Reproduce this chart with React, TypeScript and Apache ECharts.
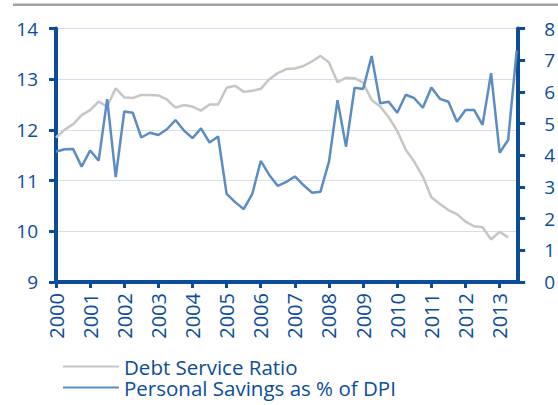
import React, { useEffect, useRef } from "react";
import * as echarts from "echarts";

const yearTicks = [2000, 2001, 2002, 2003, 2004, 2005, 2006, 2007, 2008, 2009, 2010, 2011, 2012, 2013];

// Quarterly, starting 2000 Q1
const debtServiceRatio = [
  11.85, 12.0, 12.11, 12.29, 12.39, 12.56, 12.46, 12.82, 12.64, 12.63,
  12.69, 12.69, 12.68, 12.6, 12.44, 12.49, 12.46, 12.38, 12.5, 12.5,
  12.83, 12.87, 12.75, 12.77, 12.81, 13.0, 13.12, 13.2, 13.21, 13.26,
  13.35, 13.46, 13.33, 12.94, 13.03, 13.02, 12.93, 12.59, 12.46, 12.25,
  11.98, 11.61, 11.37, 11.08, 10.67, 10.54, 10.42, 10.34, 10.19, 10.1,
  10.08, 9.84, 9.99, 9.88,
];

const personalSavings = [
  4.11, 4.19, 4.2, 3.64, 4.15, 3.83, 5.77, 3.31, 5.38, 5.34,
  4.56, 4.71, 4.64, 4.82, 5.11, 4.78, 4.54, 4.85, 4.4, 4.59,
  2.78, 2.52, 2.3, 2.77, 3.82, 3.38, 3.03, 3.16, 3.33, 3.06,
  2.82, 2.85, 3.8, 5.74, 4.27, 6.13, 6.09, 7.13, 5.64, 5.69,
  5.34, 5.91, 5.8, 5.5, 6.14, 5.78, 5.69, 5.06, 5.43, 5.43,
  4.96, 6.59, 4.08, 4.48, 7.3,
];

const seriesNames = ["Debt Service Ratio", "Personal Savings as % of DPI"];

const AXIS_BLUE = "#0b4d99";
const FONT = "Open Sans";

export default function App() {
  const ref = useRef<HTMLDivElement>(null);

  useEffect(() => {
    if (!ref.current) return;
    const chart = echarts.init(ref.current, null, { renderer: "svg" });
    const toQuarter = (i: number) => 2000 + i / 4;
    chart.setOption({
      animation: false,
      backgroundColor: "#ffffff",
      textStyle: { fontFamily: FONT },
      graphic: [
        {
          type: "rect",
          shape: { x: 13, y: 3.5, width: 545, height: 2.5 },
          style: { fill: "#a3a3a3" },
          silent: true,
        },
      ],
      grid: { left: 56, right: 28, top: 28.5, bottom: 123, containLabel: false },
      legend: {
        orient: "vertical",
        left: 63,
        top: 356,
        padding: 0,
        itemGap: 0,
        itemWidth: 56,
        itemHeight: 14,
        icon: "path://M0,6 L56,6 L56,8 L0,8 Z",
        textStyle: { color: AXIS_BLUE, fontSize: 20.5, fontFamily: FONT, lineHeight: 21 },
        data: seriesNames,
      },
      xAxis: {
        type: "value",
        min: 2000,
        max: 2013.543,
        splitLine: { show: false },
        axisLine: { show: true, lineStyle: { color: AXIS_BLUE, width: 4 } },
        axisTick: {
          show: true,
          length: 6,
          lineStyle: { color: AXIS_BLUE, width: 3 },
          customValues: yearTicks,
        },
        axisLabel: {
          rotate: 90,
          margin: 11,
          color: AXIS_BLUE,
          fontSize: 20,
          fontFamily: FONT,
          customValues: yearTicks,
          formatter: (v: number) => String(Math.round(v)),
        },
      },
      yAxis: [
        {
          type: "value",
          min: 9,
          max: 14,
          interval: 1,
          position: "left",
          axisLine: { show: true, lineStyle: { color: AXIS_BLUE, width: 4 } },
          axisTick: { show: true, length: 7, lineStyle: { color: AXIS_BLUE, width: 3 } },
          axisLabel: { color: AXIS_BLUE, fontSize: 19, fontFamily: FONT, margin: 18 },
          splitLine: { show: true, lineStyle: { color: "#d3dfec", width: 1 } },
        },
        {
          type: "value",
          min: 0,
          max: 8,
          interval: 1,
          position: "right",
          axisLine: { show: true, lineStyle: { color: AXIS_BLUE, width: 4 } },
          axisTick: { show: true, length: 7, lineStyle: { color: AXIS_BLUE, width: 3 } },
          axisLabel: { color: AXIS_BLUE, fontSize: 19, fontFamily: FONT, margin: 26 },
          splitLine: { show: false },
        },
      ],
      series: [
        {
          name: seriesNames[0],
          type: "line",
          yAxisIndex: 0,
          symbol: "none",
          lineStyle: { color: "#c6c6c6", width: 2.5 },
          itemStyle: { color: "#c6c6c6" },
          data: debtServiceRatio.map((v, i) => [toQuarter(i), v]),
          z: 2,
        },
        {
          name: seriesNames[1],
          type: "line",
          yAxisIndex: 1,
          symbol: "none",
          lineStyle: { color: "#5b8cc2", width: 2.5 },
          itemStyle: { color: "#5b8cc2" },
          data: personalSavings.map((v, i) => [toQuarter(i), v]),
          z: 3,
        },
      ],
    });
    return () => chart.dispose();
  }, []);

  return (
    <div
      ref={ref}
      style={{ position: "fixed", left: 0, top: 0, width: 558, height: 405 }}
    />
  );
}
